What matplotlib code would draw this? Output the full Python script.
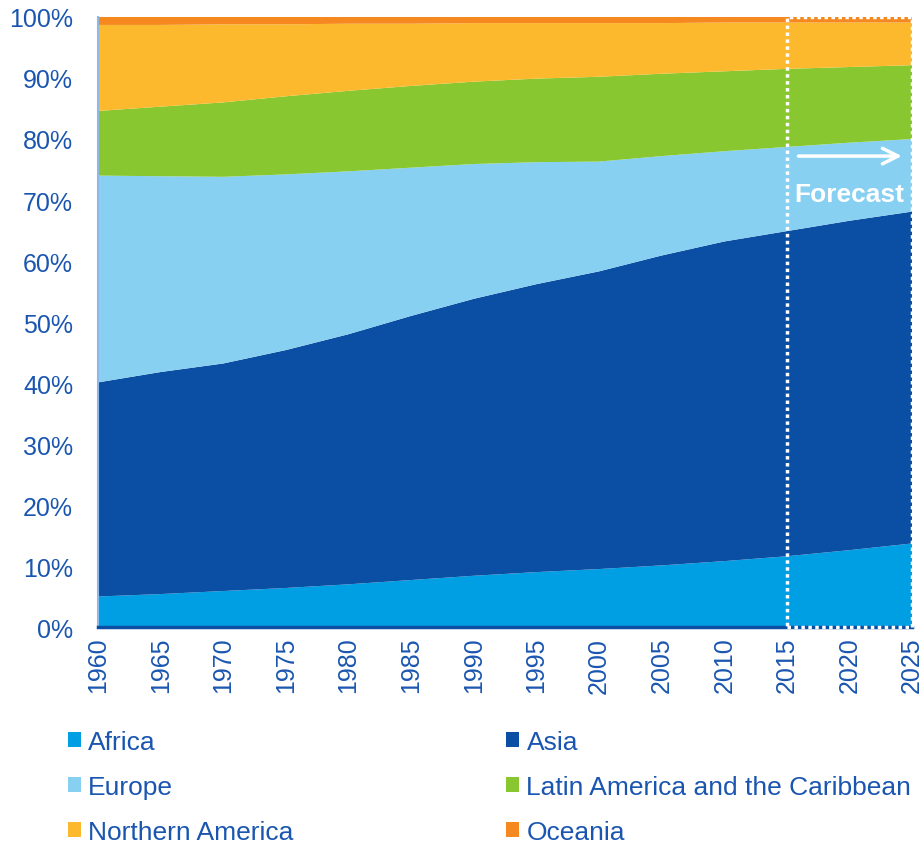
import numpy as np
import matplotlib.pyplot as plt
from matplotlib.patches import Rectangle, Patch

plt.rcParams['font.family'] = ['Liberation Sans', 'DejaVu Sans']

# --- Data: share of world urban population by region (%) ---
years = [1960, 1965, 1970, 1975, 1980, 1985, 1990, 1995, 2000, 2005, 2010, 2015, 2020, 2025]
africa = [5.0, 5.4, 5.9, 6.4, 7.0, 7.7, 8.4, 9.0, 9.5, 10.1, 10.8, 11.6, 12.6, 13.7]
asia = [35.1, 36.4, 37.3, 39.0, 41.0, 43.3, 45.4, 47.2, 48.8, 50.8, 52.4, 53.3, 54.0, 54.4]
europe = [33.9, 32.1, 30.6, 28.8, 26.7, 24.3, 22.1, 20.0, 18.0, 16.3, 14.8, 13.8, 12.8, 11.9]
latin_america = [10.6, 11.4, 12.2, 12.8, 13.2, 13.4, 13.5, 13.7, 13.9, 13.5, 13.1, 12.8, 12.4, 12.1]
northern_america = [14.1, 13.4, 12.8, 11.8, 11.0, 10.2, 9.6, 9.1, 8.8, 8.3, 8.0, 7.6, 7.3, 7.0]
oceania = [1.3, 1.3, 1.2, 1.2, 1.1, 1.1, 1.0, 1.0, 1.0, 1.0, 0.9, 0.9, 0.9, 0.9]

labels = ['Africa', 'Asia', 'Europe', 'Latin America and the Caribbean',
          'Northern America', 'Oceania']
colors = ['#009FE3', '#0A4FA3', '#88D0F1', '#88C72F', '#FDB92E', '#F5891F']
forecast_start = 2015

series = np.array([africa, asia, europe, latin_america, northern_america, oceania])
series = series / series.sum(axis=0) * 100  # 100% stacked

text_color = '#1A56B0'

fig = plt.figure(figsize=(9.22, 8.45), dpi=100)
ax = fig.add_axes([0.1063, 0.2568, 0.883, 0.7219])

ax.stackplot(years, series, colors=colors, linewidth=0)

ax.set_xlim(years[0], years[-1])
ax.set_ylim(0, 100)
ax.set_xticks(years)
ax.set_xticklabels([str(y) for y in years], rotation=90)
ax.set_yticks(range(0, 101, 10))
ax.set_yticklabels([f'{v}%' for v in range(0, 101, 10)])
ax.tick_params(axis='both', length=0, labelsize=18, labelcolor=text_color)
ax.tick_params(axis='y', pad=18)
ax.tick_params(axis='x', pad=7)

for s in ['top', 'right']:
    ax.spines[s].set_visible(False)
ax.spines['left'].set_color('#8DB8E8')
ax.spines['left'].set_linewidth(1.5)
ax.spines['bottom'].set_color('#0A4FA3')
ax.spines['bottom'].set_linewidth(2.5)

# --- Forecast box ---
box = Rectangle((forecast_start, 0), years[-1] - forecast_start, 100,
                fill=False, edgecolor='white', linewidth=2.5, linestyle=(0, (1, 1)),
                zorder=5, clip_on=False)
ax.add_patch(box)
ax.annotate('', xy=(2024.4, 77.2), xytext=(2015.7, 77.2),
            arrowprops=dict(arrowstyle='->', color='white', lw=2.5, mutation_scale=28),
            zorder=6)
ax.text(2020.0, 71.0, 'Forecast', color='white', fontsize=19, fontweight='bold',
        ha='center', va='center', zorder=6)

# --- Legend ---
order = [0, 2, 4, 1, 3, 5]
handles = [Patch(facecolor=colors[i], label=labels[i]) for i in order]
leg = fig.legend(handles=handles, ncol=2, loc='upper left', bbox_to_anchor=(0.0738, 0.1355),
                 frameon=False, fontsize=19, handlelength=0.5, handleheight=0.5,
                 handletextpad=0.27, columnspacing=8.05, labelspacing=0.8,
                 borderaxespad=0, borderpad=0)
for t in leg.get_texts():
    t.set_color(text_color)

plt.savefig('out.png', dpi=100)
